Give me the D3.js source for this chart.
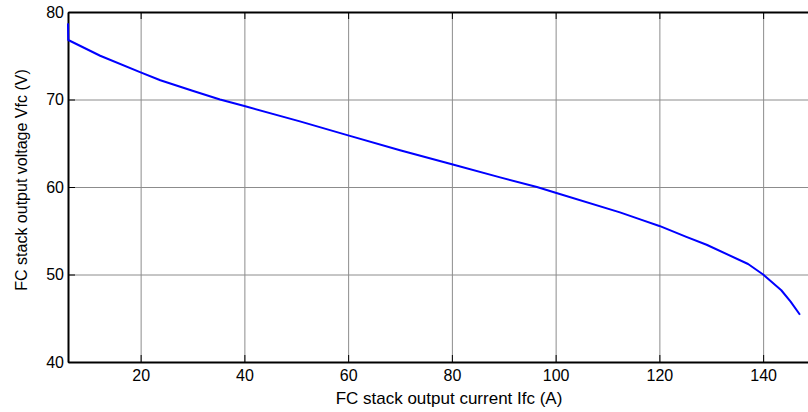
<!DOCTYPE html>
<html>
<head>
<meta charset="utf-8">
<script src="https://cdn.jsdelivr.net/npm/d3@7"></script>
<style>
  body { margin: 0; background: #fff; }
  svg { display: block; font-family: "Liberation Sans", Arial, sans-serif; }
</style>
</head>
<body>
<svg id="vis" width="808" height="412"></svg>
<script>
// FC polarization curve
const currentA = [6, 6.05, 12.2, 20, 23.8, 30, 35.3, 40, 50.7, 60, 70, 80, 89.3, 96.4, 100, 112.4, 116.3, 120, 125.2, 129.1, 137.1, 140, 143.5, 145.3, 147.1]
const voltageV = [78.7, 76.8, 75.0, 73.1, 72.2, 71.0, 70.0, 69.25, 67.5, 65.9, 64.2, 62.6, 61.1, 60.0, 59.35, 57.1, 56.3, 55.55, 54.3, 53.4, 51.2, 50.0, 48.2, 46.9, 45.4]
const xTicks = [20, 40, 60, 80, 100, 120, 140]
const yTicks = [40, 50, 60, 70, 80]

const points = currentA.map((c, i) => ({x: c, y: voltageV[i]}))

const margin = {top: 12, left: 68, bottom: 50}
const W = 808, H = 412

const svg = d3.select("#vis")

const xScale = d3.scaleLinear().domain([6, 150]).range([margin.left, 815])
const yScale = d3.scaleLinear().domain([40, 80]).range([H - margin.bottom, margin.top])

// grid
svg.append("g")
  .selectAll("line")
  .data(xTicks)
  .join("line")
  .attr("x1", d => xScale(d) + 0.5).attr("x2", d => xScale(d) + 0.5)
  .attr("y1", yScale(80)).attr("y2", yScale(40))
  .attr("stroke", "#8c8c8c").attr("stroke-width", 1)

svg.append("g")
  .selectAll("line")
  .data(yTicks.slice(1, -1))
  .join("line")
  .attr("x1", xScale(6)).attr("x2", W)
  .attr("y1", d => yScale(d) + 0.5).attr("y2", d => yScale(d) + 0.5)
  .attr("stroke", "#8c8c8c").attr("stroke-width", 1)

// axes
const fs = "16px"
const bottomAxis = svg.append("g")
  .attr("transform", `translate(0,${yScale(40)})`)
  .call(d3.axisBottom(xScale).tickValues(xTicks).tickSizeInner(-7).tickSizeOuter(0).tickPadding(8))
const topAxis = svg.append("g")
  .attr("transform", `translate(0,${yScale(80)})`)
  .call(d3.axisTop(xScale).tickValues(xTicks).tickSizeInner(-7).tickSizeOuter(0).tickFormat(""))
const leftAxis = svg.append("g")
  .attr("transform", `translate(${xScale(6)},0)`)
  .call(d3.axisLeft(yScale).tickValues(yTicks).tickSizeInner(-7).tickSizeOuter(0).tickPadding(4))

;[bottomAxis, topAxis, leftAxis].forEach(a => {
  a.select(".domain").attr("stroke", "#000").attr("stroke-width", 2)
  a.selectAll(".tick line").attr("stroke", "#000")
  a.selectAll("text").attr("font-size", fs).attr("fill", "#000").attr("font-family", null)
})

// curve
const line = d3.line()
  .x(d => xScale(d.x))
  .y(d => yScale(d.y))

svg.append("path")
  .datum(points)
  .attr("fill", "none")
  .attr("stroke", "#0000ff")
  .attr("stroke-width", 2)
  .attr("stroke-linejoin", "round")
  .attr("d", line)

// labels
svg.append("text")
  .attr("x", 449).attr("y", 404)
  .attr("text-anchor", "middle")
  .attr("font-size", "17px")
  .text("FC stack output current Ifc (A)")

svg.append("text")
  .attr("transform", `translate(27,180) rotate(-90)`)
  .attr("text-anchor", "middle")
  .attr("font-size", fs)
  .text("FC stack output voltage Vfc (V)")
</script>
</body>
</html>
